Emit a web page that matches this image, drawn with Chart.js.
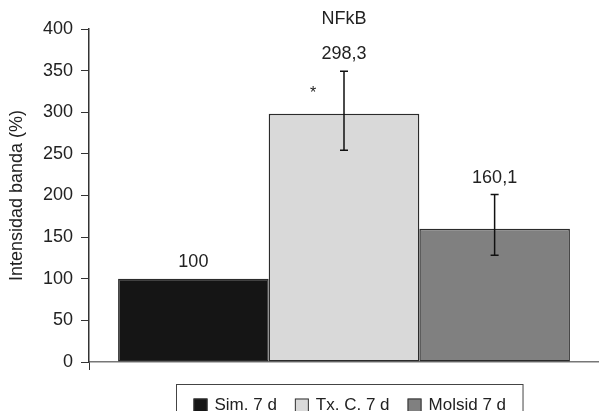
<!DOCTYPE html>
<html>
<head>
<meta charset="utf-8">
<script src="https://cdn.jsdelivr.net/npm/chart.js@4.4.1/dist/chart.umd.min.js"></script>
<style>
  html, body { margin: 0; padding: 0; background: #ffffff; }
  #wrap { width: 599px; height: 411px; }
</style>
</head>
<body>
<div id="wrap"><canvas id="c" width="599" height="411"></canvas></div>
<script>
const chartTitle = 'NFkB';
const yAxisTitle = 'Intensidad banda (%)';
const seriesNames = ['Sim. 7 d', 'Tx. C. 7 d', 'Molsid 7 d'];
const seriesValues = [100, 298.3, 160.1];
const errorPlus = [0, 51, 41];
const errorMinus = [0, 44, 32];
const significance = ['', '*', ''];
const seriesColors = ['#151515', '#d9d9d9', '#808080'];
const yTicks = [0, 50, 100, 150, 200, 250, 300, 350, 400];

const FONT = '"Liberation Sans", Arial, Helvetica, sans-serif';
const fmt = v => String(v).replace('.', ',');

const datasets = seriesNames.map((name, i) => ({
  label: name,
  data: [seriesValues[i]],
  backgroundColor: seriesColors[i],
  borderColor: '#2b2b2b',
  borderWidth: 1.5,
  borderSkipped: false,
  barPercentage: 1,
  categoryPercentage: 0.886
}));

const decorPlugin = {
  id: 'decor',
  afterDatasetsDraw(chart) {
    const ctx = chart.ctx;
    const y = chart.scales.y;
    ctx.save();
    chart.data.datasets.forEach((ds, i) => {
      const bar = chart.getDatasetMeta(i).data[0];
      const v = seriesValues[i];
      const x = bar.x;
      const yTop = y.getPixelForValue(v + errorPlus[i]);
      const yBot = y.getPixelForValue(v - errorMinus[i]);
      if (errorPlus[i] || errorMinus[i]) {
        ctx.strokeStyle = '#111';
        ctx.lineWidth = 1.5;
        ctx.beginPath();
        ctx.moveTo(x, yTop); ctx.lineTo(x, yBot);
        ctx.moveTo(x - 4, yTop); ctx.lineTo(x + 4, yTop);
        ctx.moveTo(x - 4, yBot); ctx.lineTo(x + 4, yBot);
        ctx.stroke();
      }
      const top = Math.min(bar.y, yTop);
      ctx.fillStyle = '#222';
      ctx.font = '18px ' + FONT;
      ctx.textAlign = 'center';
      ctx.textBaseline = 'middle';
      ctx.fillText(fmt(v), x, top - 17);
      if (significance[i]) {
        ctx.font = '16px ' + FONT;
        ctx.fillText(significance[i], x - 31, yTop + 22);
      }
    });
    ctx.restore();
  },
  afterDraw(chart) {
    const ctx = chart.ctx;
    const ca = chart.chartArea;
    const cx = (ca.left + ca.right) / 2;
    ctx.save();
    ctx.fillStyle = '#222';
    ctx.font = '18px ' + FONT;
    ctx.textAlign = 'center';
    ctx.textBaseline = 'middle';
    ctx.fillText(chartTitle, cx, 19);
    ctx.font = '17px ' + FONT;
    const sq = 14, gapTxt = 7, gapItem = 18, padX = 17;
    const widths = seriesNames.map(n => ctx.measureText(n).width);
    let total = padX * 2;
    widths.forEach((w, i) => { total += sq + gapTxt + w + (i ? gapItem : 0); });
    const bx = Math.round(cx + 5 - total / 2) + 0.5;
    const by = ca.bottom + 22.5;
    ctx.strokeStyle = '#444';
    ctx.lineWidth = 1;
    ctx.strokeRect(bx, by, total, 34);
    let xx = bx + padX;
    const my = by + 21;
    seriesNames.forEach((n, i) => {
      ctx.fillStyle = seriesColors[i];
      ctx.fillRect(xx, my - sq / 2, sq, sq);
      ctx.strokeStyle = '#333';
      ctx.strokeRect(xx + 0.5, my - sq / 2 + 0.5, sq - 1, sq - 1);
      ctx.fillStyle = '#222';
      ctx.textAlign = 'left';
      ctx.fillText(n, xx + sq + gapTxt, my);
      xx += sq + gapTxt + widths[i] + gapItem;
    });
    ctx.restore();
  }
};

new Chart(document.getElementById('c'), {
  type: 'bar',
  data: { labels: [''], datasets },
  options: {
    responsive: false,
    animation: false,
    layout: { padding: { top: 29, right: 0, bottom: 41, left: 0 } },
    plugins: {
      legend: { display: false },
      title: { display: false },
      tooltip: { enabled: false }
    },
    scales: {
      x: {
        offset: true,
        grid: { display: true, drawOnChartArea: false, drawTicks: true, tickLength: 8, color: '#333', offset: true },
        border: { display: true, color: '#777', width: 1.5 },
        ticks: { display: false },
        afterFit(s) { s.height = 8; }
      },
      y: {
        min: 0, max: 400,
        afterBuildTicks(s) { s.ticks = yTicks.map(v => ({ value: v })); },
        grid: { display: true, drawOnChartArea: false, drawTicks: true, tickLength: 8, color: '#333' },
        border: { display: true, color: '#333', width: 1.5 },
        ticks: { color: '#222', padding: 8, font: { family: FONT, size: 18 } },
        title: { display: true, text: yAxisTitle, color: '#222', padding: { top: 6, bottom: 0 }, font: { family: FONT, size: 18 } },
        afterFit(s) { s.width = 89; }
      }
    }
  },
  plugins: [decorPlugin]
});
</script>
</body>
</html>
